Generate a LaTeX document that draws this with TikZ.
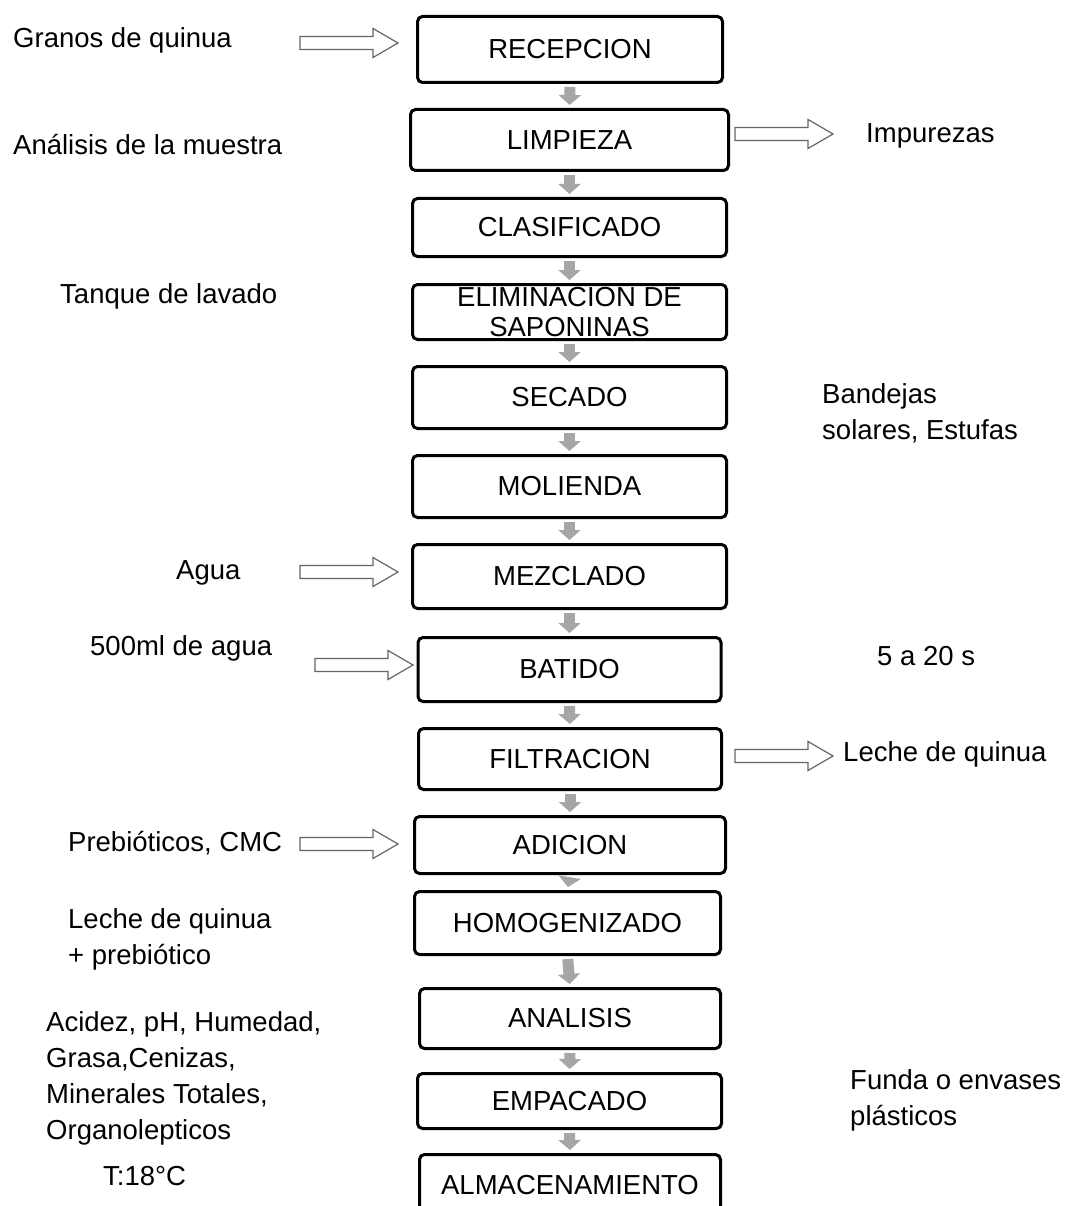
\documentclass[tikz,border=0pt]{standalone}
\usepackage{fontspec}
\setmainfont{Liberation Sans}
\usetikzlibrary{arrows.meta,calc}
\newcommand\hollowarr[2]{\draw[hollow] ($(#1)+(0,-6.5)$) -- ($(#2)+(-25,-6.5)$) -- ($(#2)+(-25,-14.5)$) -- (#2) -- ($(#2)+(-25,14.5)$) -- ($(#2)+(-25,6.5)$) -- ($(#1)+(0,6.5)$) -- cycle;}
\begin{document}
\begin{tikzpicture}[x=1pt,y=-1pt,
  box/.style={draw=black, line width=3pt, rounded corners=5pt, inner sep=0pt, align=center, fill=white,
    font=\fontsize{27.5}{30}\selectfont},
  lbl/.style={anchor=base west, inner sep=0pt, font=\fontsize{27.5}{36}\selectfont},
  flow/.style={draw=black!35, line width=11pt, -{Triangle[width=22pt,length=10pt]}, shorten <=3pt, shorten >=3pt},
  hollow/.style={draw=black!60, line width=1.2pt, fill=white, line join=miter}]
\clip (0,0) rectangle (1065,1206);
\fill[white] (0,0) rectangle (1065,1206);

% process boxes
\node[box, minimum width=305pt, minimum height=66pt] (b1) at (570,49.5) {RECEPCION};
\node[box, minimum width=318pt, minimum height=61pt] (b2) at (569.5,140) {LIMPIEZA};
\node[box, minimum width=314pt, minimum height=58pt] (b3) at (569.5,227.5) {CLASIFICADO};
\node[box, minimum width=314pt, minimum height=55pt] (b4) at (569.5,312) {ELIMINACION DE\\SAPONINAS};
\node[box, minimum width=314pt, minimum height=62pt] (b5) at (569.5,397.5) {SECADO};
\node[box, minimum width=314pt, minimum height=62pt] (b6) at (569.5,486.5) {MOLIENDA};
\node[box, minimum width=314pt, minimum height=64pt] (b7) at (569.5,576.5) {MEZCLADO};
\node[box, minimum width=303pt, minimum height=64pt] (b8) at (569.5,669.5) {BATIDO};
\node[box, minimum width=303pt, minimum height=61pt] (b9) at (570,759) {FILTRACION};
\node[box, minimum width=311pt, minimum height=57pt] (b10) at (570,845) {ADICION};
\node[box, minimum width=306pt, minimum height=63pt] (b11) at (567.5,923) {HOMOGENIZADO};
\node[box, minimum width=301pt, minimum height=60pt] (b12) at (570,1018.5) {ANALISIS};
\node[box, minimum width=304pt, minimum height=55pt] (b13) at (569.5,1101) {EMPACADO};
\node[box, minimum width=301pt, minimum height=61pt] (b14) at (570,1185) {ALMACENAMIENTO};

% flow arrows
\foreach \a/\b in {b1/b2,b2/b3,b3/b4,b4/b5,b5/b6,b6/b7,b7/b8,b8/b9,b9/b10,b10/b11,b11/b12,b12/b13,b13/b14}
  \draw[flow] (\a.south) -- (\b.north);

% hollow arrows
\coordinate (g1) at (300,43); \coordinate (g2) at (398,43);
\coordinate (i1) at (735,134); \coordinate (i2) at (833,134);
\coordinate (a1) at (300,572); \coordinate (a2) at (398,572);
\coordinate (m1) at (315,665); \coordinate (m2) at (413,665);
\coordinate (l1) at (735,756); \coordinate (l2) at (833,756);
\coordinate (p1) at (300,844); \coordinate (p2) at (398,844);
\hollowarr{g1}{g2}
\hollowarr{i1}{i2}
\hollowarr{a1}{a2}
\hollowarr{m1}{m2}
\hollowarr{l1}{l2}
\hollowarr{p1}{p2}

% labels
\node[lbl] (t1) at (13,48) {Granos de quinua};
\node[lbl] (t2) at (13,155) {Análisis de la muestra};
\node[lbl] (t3) at (866,143) {Impurezas};
\node[lbl] (t4) at (60,303) {Tanque de lavado};
\node[lbl] (t5a) at (822,403) {Bandejas};
\node[lbl] (t5b) at (822,439) {solares, Estufas};
\node[lbl] (t6) at (176,579) {Agua};
\node[lbl] (t7) at (90,655) {500ml de agua};
\node[lbl] (t8) at (877,665) {5 a 20 s};
\node[lbl] (t9) at (843,761) {Leche de quinua};
\node[lbl] (t10) at (68,851) {Prebióticos, CMC};
\node[lbl] (t11a) at (68,928) {Leche de quinua};
\node[lbl] (t11b) at (68,964) {+ prebiótico};
\node[lbl] (t12a) at (46,1031) {Acidez, pH, Humedad,};
\node[lbl] (t12b) at (46,1067) {Grasa,Cenizas,};
\node[lbl] (t12c) at (46,1103) {Minerales Totales,};
\node[lbl] (t12d) at (46,1139) {Organolepticos};
\node[lbl] (t13) at (103,1185) {T:18°C};
\node[lbl] (t14a) at (850,1089) {Funda o envases};
\node[lbl] (t14b) at (850,1125) {plásticos};
\end{tikzpicture}
\end{document}
